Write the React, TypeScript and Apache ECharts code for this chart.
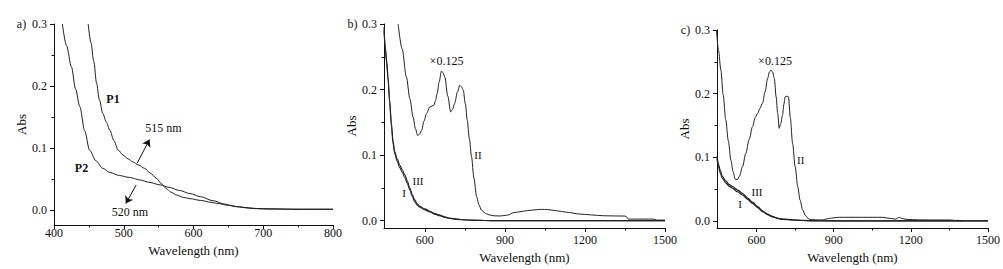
import { useEffect, useRef } from "react";
import * as echarts from "echarts";

// ---- Panel a) ----
const aP1: number[][] = [[449,0.3],[453,0.27],[457,0.24],[461,0.205],[465,0.178],[470,0.156],[475,0.142],[480,0.129],[486,0.112],[492,0.097],[499,0.089],[506,0.083],[513,0.078],[521,0.073],[530,0.0675],[538,0.06],[547,0.0514],[554,0.043],[561,0.035],[568,0.029],[576,0.0246],[585,0.021],[595,0.0188],[610,0.016],[625,0.013],[635,0.011],[650,0.008],[670,0.005],[690,0.003],[710,0.0025],[750,0.0015],[800,0.0015]];
const aP2: number[][] = [[412,0.3],[418,0.265],[425,0.231],[431,0.195],[437,0.167],[444,0.128],[451,0.097],[460,0.08],[470,0.0675],[480,0.061],[494,0.056],[508,0.053],[523,0.049],[537,0.045],[552,0.041],[565,0.037],[580,0.032],[595,0.027],[610,0.022],[628,0.0155],[645,0.01],[660,0.006],[685,0.003],[705,0.002],[750,0.002],[800,0.002]];

// ---- Panel b) ----
const bII: number[][] = [[500,0.3],[515,0.262],[531,0.219],[544,0.186],[556,0.158],[565,0.14],[573,0.13],[580,0.132],[588,0.138],[597,0.152],[606,0.1635],[619,0.1736],[634,0.176],[640,0.183],[646,0.194],[654,0.212],[662,0.228],[668,0.226],[675,0.219],[686,0.19],[697,0.166],[704,0.17],[712,0.179],[722,0.196],[731,0.2066],[738,0.204],[744,0.199],[752,0.178],[759,0.153],[767,0.125],[775,0.0975],[784,0.065],[794,0.0366],[803,0.024],[812,0.0163],[828,0.011],[844,0.0087],[860,0.0075],[881,0.0072],[900,0.008],[912,0.0087],[931,0.0122],[956,0.0137],[985,0.0155],[1010,0.0165],[1037,0.0173],[1060,0.017],[1094,0.0152],[1130,0.013],[1181,0.0102],[1225,0.0088],[1269,0.0076],[1310,0.0073],[1350,0.0071],[1356,0.006],[1363,0.0025],[1420,0.0025],[1456,0.0025],[1469,0.001],[1500,0.001]];
const bI: number[][] = [[447,0.29],[452,0.26],[457,0.24],[462,0.215],[468,0.18],[475,0.143],[481,0.117],[487,0.1026],[496,0.091],[506,0.081],[515,0.074],[525,0.066],[534,0.057],[544,0.0467],[553,0.037],[562,0.029],[571,0.024],[581,0.0205],[600,0.0165],[619,0.0133],[637,0.01],[656,0.0075],[675,0.005],[694,0.0033],[720,0.002],[756,0.001],[800,0.0005],[850,0.0002],[1500,0.0002]];
const bIII: number[][] = [[447,0.295],[452,0.265],[457,0.245],[462,0.22],[468,0.185],[475,0.148],[481,0.121],[487,0.106],[496,0.095],[506,0.085],[515,0.078],[525,0.07],[534,0.061],[544,0.05],[553,0.04],[562,0.032],[571,0.026],[581,0.022],[600,0.018],[619,0.0145],[637,0.011],[656,0.0085],[675,0.0058],[694,0.004],[720,0.0025],[756,0.0012],[800,0.0006],[850,0.0002],[1500,0.0002]];

// ---- Panel c) ----
const cII: number[][] = [[444,0.3],[452,0.268],[461,0.237],[470,0.198],[480,0.159],[490,0.126],[500,0.096],[508,0.078],[517,0.0655],[525,0.065],[533,0.07],[545,0.085],[558,0.106],[571,0.128],[584,0.148],[595,0.163],[604,0.169],[613,0.177],[623,0.185],[633,0.203],[643,0.224],[650,0.234],[656,0.237],[662,0.234],[669,0.224],[676,0.195],[682,0.169],[688,0.1456],[694,0.153],[701,0.1665],[706,0.183],[711,0.195],[718,0.196],[724,0.195],[731,0.163],[740,0.122],[750,0.085],[760,0.054],[769,0.033],[779,0.0173],[791,0.008],[805,0.0027],[830,0.0018],[857,0.0016],[870,0.003],[883,0.004],[900,0.005],[922,0.0058],[960,0.0058],[1012,0.0058],[1050,0.0058],[1090,0.0058],[1120,0.004],[1142,0.003],[1150,0.005],[1155,0.0058],[1165,0.004],[1181,0.0026],[1230,0.0018],[1272,0.0016],[1350,0.0016],[1370,0.001],[1376,0.0005],[1385,0.0012],[1390,0.0003],[1400,0]];
const cI: number[][] = [[446,0.098],[452,0.085],[459,0.075],[467,0.067],[480,0.06],[494,0.0545],[507,0.0513],[525,0.046],[545,0.0408],[565,0.034],[584,0.0278],[604,0.021],[623,0.0146],[642,0.01],[662,0.0066],[680,0.0042],[701,0.0027],[740,0.0016],[780,0.0008],[820,0.0003],[900,0.0002],[1500,0.0002]];
const cIII: number[][] = [[446,0.102],[452,0.089],[459,0.079],[467,0.07],[480,0.063],[494,0.057],[507,0.054],[525,0.049],[545,0.0435],[565,0.036],[584,0.0295],[604,0.0225],[623,0.016],[642,0.011],[662,0.0072],[680,0.0046],[701,0.003],[740,0.0018],[780,0.0009],[820,0.0004],[900,0.0003],[1500,0.0003]];

// ---- Ticks ----
const aXMajor = [400, 500, 600, 700, 800];
const aXMinor = [450, 550, 650, 750];
const bcXMajor = [600, 900, 1200, 1500];
const bcXMinor = [750, 1050, 1350];
const yMajor = [0, 0.1, 0.2, 0.3];
const yMinor = [0.05, 0.15, 0.25];

// arrows in panel a (data coordinates)
const arrow515 = [[519, 0.0756], [537, 0.114]];
const arrow520 = [[517.7, 0.0407], [503, 0.011]];

const FONT = '"Liberation Serif", "Times New Roman", serif';
const INK = "#111";
const LINE = "#222";

type Panel = {
  grid: { left: number; top: number; width: number; height: number };
  xMin: number; xMax: number; yMin: number;
  xMajor: number[]; xMinor: number[];
  labelMargin: number; nameGap: number; yNameGap: number;
};

const panels: Panel[] = [
  { grid: { left: 54, top: 24, width: 279, height: 201 }, xMin: 400, xMax: 800, yMin: -0.0236, xMajor: aXMajor, xMinor: aXMinor, labelMargin: 2, nameGap: 13, yNameGap: 25 },
  { grid: { left: 384, top: 24, width: 281, height: 204 }, xMin: 447, xMax: 1500, yMin: -0.0111, xMajor: bcXMajor, xMinor: bcXMinor, labelMargin: 6, nameGap: 21, yNameGap: 23 },
  { grid: { left: 717, top: 30, width: 271, height: 198 }, xMin: 446, xMax: 1500, yMin: -0.011, xMajor: bcXMajor, xMinor: bcXMinor, labelMargin: 6, nameGap: 21, yNameGap: 23 },
];

function text(t: string, x: number, y: number, size = 12, bold = false) {
  return {
    type: "text",
    x, y,
    silent: true,
    style: {
      text: t,
      font: `${bold ? "bold " : ""}${size}px ${FONT}`,
      fill: INK,
      textAlign: "center",
      textVerticalAlign: "middle",
      align: "center",
      verticalAlign: "middle",
    },
  };
}

export default function App() {
  const ref = useRef<HTMLDivElement>(null);
  useEffect(() => {
    if (!ref.current) return;
    const chart = echarts.init(ref.current, undefined, { renderer: "svg" });
    const axisLineStyle = { color: INK, width: 1 };
    const xAxis: any[] = [];
    const yAxis: any[] = [];
    panels.forEach((p, i) => {
      xAxis.push({
        type: "value", gridIndex: i, min: p.xMin, max: p.xMax, position: "bottom",
        axisLine: { show: true, onZero: false, lineStyle: axisLineStyle },
        axisTick: { show: true, inside: false, length: 4, customValues: p.xMajor, lineStyle: axisLineStyle },
        axisLabel: { show: true, customValues: p.xMajor, margin: p.labelMargin, fontFamily: FONT, fontSize: 12, color: INK, formatter: (v: number) => String(Math.round(v)), showMinLabel: true, showMaxLabel: true },
        splitLine: { show: false },
        name: "Wavelength (nm)", nameLocation: "middle", nameGap: p.nameGap,
        nameTextStyle: { fontFamily: FONT, fontSize: 13, color: INK },
      });
      xAxis.push({
        type: "value", gridIndex: i, min: p.xMin, max: p.xMax, position: "bottom",
        axisLine: { show: false, onZero: false },
        axisTick: { show: true, inside: false, length: 2.5, customValues: p.xMinor, lineStyle: axisLineStyle },
        axisLabel: { show: false },
        splitLine: { show: false },
      });
      yAxis.push({
        type: "value", gridIndex: i, min: p.yMin, max: 0.3, position: "left",
        axisLine: { show: true, onZero: false, lineStyle: axisLineStyle },
        axisTick: { show: true, inside: false, length: 4, customValues: yMajor, lineStyle: axisLineStyle },
        axisLabel: { show: true, customValues: yMajor, margin: 7, fontFamily: FONT, fontSize: 12, color: INK, formatter: (v: number) => v.toFixed(1), showMinLabel: true, showMaxLabel: true },
        splitLine: { show: false },
        name: "Abs", nameLocation: "middle", nameGap: p.yNameGap, nameRotate: 90,
        nameTextStyle: { fontFamily: FONT, fontSize: 13, color: INK },
      });
      yAxis.push({
        type: "value", gridIndex: i, min: p.yMin, max: 0.3, position: "left",
        axisLine: { show: false, onZero: false },
        axisTick: { show: true, inside: false, length: 2.5, customValues: yMinor, lineStyle: axisLineStyle },
        axisLabel: { show: false },
        splitLine: { show: false },
      });
    });

    const line = (data: number[][], panel: number, width = 1, extra: any = {}) => ({
      type: "line",
      data,
      xAxisIndex: panel * 2,
      yAxisIndex: panel * 2,
      showSymbol: false,
      symbol: "none",
      smooth: 0.3,
      smoothMonotone: "x",
      clip: true,
      silent: true,
      lineStyle: { color: LINE, width },
      ...extra,
    });

    const arrowStyle = { color: INK, width: 1, type: "solid" };
    const series: any[] = [
      line(aP1, 0, 1, {
        markLine: {
          silent: true,
          symbol: ["none", "arrow"],
          symbolSize: 7,
          label: { show: false },
          lineStyle: arrowStyle,
          data: [
            [{ coord: arrow515[0] }, { coord: arrow515[1] }],
            [{ coord: arrow520[0] }, { coord: arrow520[1] }],
          ],
        },
      }),
      line(aP2, 0),
      line(bII, 1),
      line(bI, 1, 1.1),
      line(bIII, 1, 1.1),
      line(cII, 2),
      line(cI, 2, 1.2),
      line(cIII, 2, 1.2),
    ];

    chart.setOption({
      animation: false,
      backgroundColor: "#fff",
      grid: panels.map((p) => ({ ...p.grid, containLabel: false })),
      xAxis,
      yAxis,
      series,
      graphic: [
        text("a)", 21.5, 24, 12),
        text("b)", 352.5, 24, 12),
        text("c)", 685.5, 30, 12),
        text("P1", 113, 99, 12, true),
        text("P2", 81.5, 168, 12, true),
        text("515 nm", 163.5, 128, 12),
        text("520 nm", 130, 212, 12),
        text("×0.125", 446.5, 61, 12),
        text("II", 478, 155, 11),
        text("III", 418, 181, 11),
        text("I", 404, 193, 11),
        text("×0.125", 775, 61, 12),
        text("II", 800.7, 160, 11),
        text("III", 757, 192, 11),
        text("I", 740, 204, 11),
      ],
    });
    return () => chart.dispose();
  }, []);
  return (
    <div
      ref={ref}
      style={{ position: "absolute", left: 0, top: 0, width: 1003, height: 269, background: "#fff" }}
    />
  );
}
